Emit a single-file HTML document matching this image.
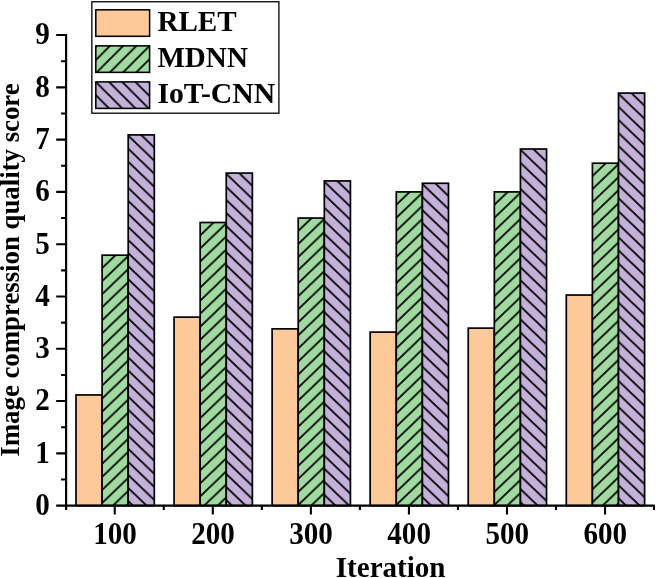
<!DOCTYPE html>
<html><head><meta charset="utf-8"><title>Chart</title>
<style>html,body{margin:0;padding:0;background:#fff}svg{display:block}text{font-family:"Liberation Serif",serif;font-weight:bold;fill:#000}</style></head><body>
<svg width="656" height="578" viewBox="0 0 656 578">
<defs>
<pattern id="hg" patternUnits="userSpaceOnUse" width="13.594" height="13.05" x="0" y="0.9"><rect width="13.594" height="13.05" fill="#A1DAA1"/><path d="M-4.078,16.965 L17.672,-3.915 M-17.672,16.965 L4.078,-3.915 M9.516,16.965 L31.266,-3.915" stroke="#000" stroke-width="1.8"/></pattern>
<pattern id="hp" patternUnits="userSpaceOnUse" width="13.594" height="13.05" x="0" y="0.7"><rect width="13.594" height="13.05" fill="#C3B1D9"/><path d="M-4.078,-3.915 L17.672,16.965 M-17.672,-3.915 L4.078,16.965 M9.516,-3.915 L31.266,16.965" stroke="#000" stroke-width="1.8"/></pattern>
<pattern id="lg" patternUnits="userSpaceOnUse" width="13.2" height="13.2"><rect width="13.2" height="13.2" fill="#A1DAA1"/><path d="M-3.960,17.160 L17.160,-3.960 M-17.160,17.160 L3.960,-3.960 M9.240,17.160 L30.360,-3.960" stroke="#000" stroke-width="1.8"/></pattern>
<pattern id="lp" patternUnits="userSpaceOnUse" width="13.2" height="13.2"><rect width="13.2" height="13.2" fill="#C3B1D9"/><path d="M-3.960,-3.960 L17.160,17.160 M-17.160,-3.960 L3.960,17.160 M9.240,-3.960 L30.360,17.160" stroke="#000" stroke-width="1.8"/></pattern>
</defs>
<rect width="656" height="578" fill="#fff"/>
<rect transform="translate(76.00,394.95)" x="0" y="0" width="26.10" height="110.70" fill="#FDC998" stroke="#000" stroke-width="1.7"/>
<rect transform="translate(128.20,255.18)" x="-26.10" y="0" width="26.10" height="250.47" fill="url(#hg)" stroke="#000" stroke-width="1.7"/>
<rect transform="translate(128.20,134.91)" x="0" y="0" width="26.10" height="370.74" fill="url(#hp)" stroke="#000" stroke-width="1.7"/>
<rect transform="translate(174.06,317.14)" x="0" y="0" width="26.10" height="188.51" fill="#FDC998" stroke="#000" stroke-width="1.7"/>
<rect transform="translate(226.26,222.50)" x="-26.10" y="0" width="26.10" height="283.15" fill="url(#hg)" stroke="#000" stroke-width="1.7"/>
<rect transform="translate(226.26,173.09)" x="0" y="0" width="26.10" height="332.56" fill="url(#hp)" stroke="#000" stroke-width="1.7"/>
<rect transform="translate(272.12,328.86)" x="0" y="0" width="26.10" height="176.79" fill="#FDC998" stroke="#000" stroke-width="1.7"/>
<rect transform="translate(324.32,218.06)" x="-26.10" y="0" width="26.10" height="287.59" fill="url(#hg)" stroke="#000" stroke-width="1.7"/>
<rect transform="translate(324.32,180.93)" x="0" y="0" width="26.10" height="324.72" fill="url(#hp)" stroke="#000" stroke-width="1.7"/>
<rect transform="translate(370.18,332.10)" x="0" y="0" width="26.10" height="173.55" fill="#FDC998" stroke="#000" stroke-width="1.7"/>
<rect transform="translate(422.38,191.91)" x="-26.10" y="0" width="26.10" height="313.74" fill="url(#hg)" stroke="#000" stroke-width="1.7"/>
<rect transform="translate(422.38,183.28)" x="0" y="0" width="26.10" height="322.37" fill="url(#hp)" stroke="#000" stroke-width="1.7"/>
<rect transform="translate(468.24,328.13)" x="0" y="0" width="26.10" height="177.52" fill="#FDC998" stroke="#000" stroke-width="1.7"/>
<rect transform="translate(520.44,191.91)" x="-26.10" y="0" width="26.10" height="313.74" fill="url(#hg)" stroke="#000" stroke-width="1.7"/>
<rect transform="translate(520.44,149.03)" x="0" y="0" width="26.10" height="356.62" fill="url(#hp)" stroke="#000" stroke-width="1.7"/>
<rect transform="translate(566.30,295.03)" x="0" y="0" width="26.10" height="210.62" fill="#FDC998" stroke="#000" stroke-width="1.7"/>
<rect transform="translate(618.50,163.20)" x="-26.10" y="0" width="26.10" height="342.45" fill="url(#hg)" stroke="#000" stroke-width="1.7"/>
<rect transform="translate(618.50,93.08)" x="0" y="0" width="26.10" height="412.57" fill="url(#hp)" stroke="#000" stroke-width="1.7"/>
<path d="M66.1,33.94 V509.95 M65.1,505.65 H654.8" stroke="#000" stroke-width="2.2" fill="none"/>
<path d="M56.20,505.65 H66.1 M61.10,479.50 H66.1 M56.20,453.36 H66.1 M61.10,427.21 H66.1 M56.20,401.07 H66.1 M61.10,374.93 H66.1 M56.20,348.78 H66.1 M61.10,322.63 H66.1 M56.20,296.49 H66.1 M61.10,270.35 H66.1 M56.20,244.20 H66.1 M61.10,218.05 H66.1 M56.20,191.91 H66.1 M61.10,165.76 H66.1 M56.20,139.62 H66.1 M61.10,113.48 H66.1 M56.20,87.33 H66.1 M61.10,61.18 H66.1 M56.20,35.04 H66.1 M114.75,505.65 V514.45 M212.81,505.65 V514.45 M310.87,505.65 V514.45 M408.93,505.65 V514.45 M506.99,505.65 V514.45 M605.05,505.65 V514.45 M163.78,505.65 V510.05 M261.84,505.65 V510.05 M359.90,505.65 V510.05 M457.96,505.65 V510.05 M556.02,505.65 V510.05 M654.00,505.65 V510.05" stroke="#000" stroke-width="2.1" fill="none"/>
<text transform="translate(49.90,514.95) scale(1,1.09)" font-size="29.1" text-anchor="end">0</text>
<text transform="translate(49.90,462.66) scale(1,1.09)" font-size="29.1" text-anchor="end">1</text>
<text transform="translate(49.90,410.37) scale(1,1.09)" font-size="29.1" text-anchor="end">2</text>
<text transform="translate(49.90,358.08) scale(1,1.09)" font-size="29.1" text-anchor="end">3</text>
<text transform="translate(49.90,305.79) scale(1,1.09)" font-size="29.1" text-anchor="end">4</text>
<text transform="translate(49.90,253.50) scale(1,1.09)" font-size="29.1" text-anchor="end">5</text>
<text transform="translate(49.90,201.21) scale(1,1.09)" font-size="29.1" text-anchor="end">6</text>
<text transform="translate(49.90,148.92) scale(1,1.09)" font-size="29.1" text-anchor="end">7</text>
<text transform="translate(49.90,96.63) scale(1,1.09)" font-size="29.1" text-anchor="end">8</text>
<text transform="translate(49.90,44.34) scale(1,1.09)" font-size="29.1" text-anchor="end">9</text>
<text transform="translate(114.95,544.45) scale(1,1.09)" font-size="29.1" text-anchor="middle">100</text>
<text transform="translate(213.01,544.45) scale(1,1.09)" font-size="29.1" text-anchor="middle">200</text>
<text transform="translate(311.07,544.45) scale(1,1.09)" font-size="29.1" text-anchor="middle">300</text>
<text transform="translate(409.13,544.45) scale(1,1.09)" font-size="29.1" text-anchor="middle">400</text>
<text transform="translate(507.19,544.45) scale(1,1.09)" font-size="29.1" text-anchor="middle">500</text>
<text transform="translate(605.25,544.45) scale(1,1.09)" font-size="29.1" text-anchor="middle">600</text>
<text transform="translate(390.65,577.10)" font-size="29.05" text-anchor="middle">Iteration</text>
<text transform="translate(19.10,270.00) rotate(-90) scale(1,1.05)" font-size="26.8" text-anchor="middle">Image compression quality score</text>
<rect x="91.85" y="1.75" width="187.05" height="111.45" fill="#fff" stroke="#000" stroke-width="1.3"/>
<rect transform="translate(95.8,9.80)" x="0" y="0" width="53.8" height="26.5" fill="#FDC998" stroke="#000" stroke-width="1.55"/>
<text transform="translate(157.40,31.40)" font-size="29.1" text-anchor="start">RLET</text>
<rect transform="translate(149.60,45.85)" x="-53.8" y="0" width="53.8" height="26.5" fill="url(#lg)" stroke="#000" stroke-width="1.55"/>
<text transform="translate(157.40,67.20)" font-size="29.1" text-anchor="start">MDNN</text>
<rect transform="translate(95.8,81.90)" x="0" y="0" width="53.8" height="26.5" fill="url(#lp)" stroke="#000" stroke-width="1.55"/>
<text transform="translate(157.40,103.00) scale(1.022,1)" font-size="29.1" text-anchor="start">IoT-CNN</text>
</svg></body></html>
